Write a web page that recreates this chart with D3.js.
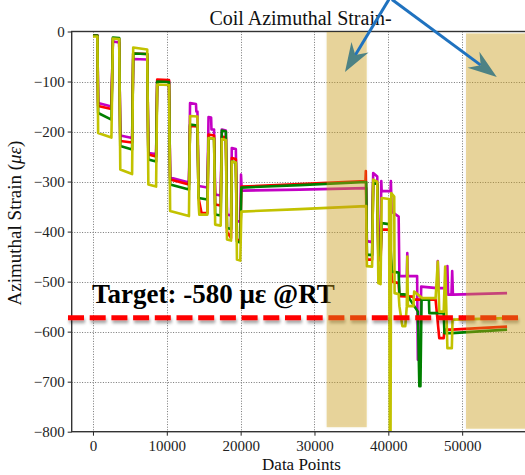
<!DOCTYPE html>
<html>
<head>
<meta charset="utf-8">
<script src="https://cdn.jsdelivr.net/npm/d3@7"></script>
<style>
	body { margin: 0; background: #fff; }
	svg { display: block; font-family: 'Liberation Serif', 'Times New Roman', serif; }
</style>
</head>
<body>
<div id="chart"></div>
<script>
// gauge readings as [data point, microstrain]
const magentaPoints = [
	[0,-8],[600,-8],[700,-143],[2500,-150],[2700,-20],[3550,-22],[3700,-208],[5300,-213],
	[5450,-55],[7350,-56],[7500,-243],[8550,-245],[8700,-98],[10300,-99],[10450,-292],[13000,-302],
	[13150,-143],[13950,-145],[14000,-160],[14150,-160],[14300,-309],[15500,-312],
	[15650,-171],[16000,-172],[16050,-196],[16400,-196],[16550,-326],[17300,-328],
	[17450,-196],[18000,-198],[18150,-366],[18700,-368],[18800,-233],[19350,-235],
	[19500,-379],[19950,-380],[20050,-286],[20150,-318],[28000,-316],[37000,-313],
	[37100,-419],[37800,-421],[37950,-283],[38500,-290],[38650,-426],[38950,-428],
	[39050,-299],[39100,-319],[40300,-319],[40350,-299],[40450,-360],[41400,-370],
	[41500,-489],[42500,-489],[42570,-443],[42650,-489],[43900,-489],[44000,-656],[44300,-656],
	[44450,-510],[46600,-513],[46700,-459],[46800,-513],[47900,-513],[48000,-469],[48100,-526],
	[48550,-526],[48650,-479],[48750,-526],[56080,-523]
];
const redPoints = [
	[0,-8],[600,-8],[700,-149],[2500,-155],[2700,-14],[3550,-15],[3700,-219],[5300,-222],
	[5450,-44],[7350,-45],[7500,-246],[8550,-250],[8700,-96],[10300,-97],[10450,-296],[13000,-306],
	[13150,-189],[14150,-190],[14300,-333],[14700,-363],[15500,-363],[15650,-206],[16400,-208],
	[16550,-346],[17300,-348],[17450,-210],[18000,-212],[18150,-400],[18700,-413],
	[18800,-253],[19350,-255],[19500,-416],[19950,-418],[20100,-310],[28000,-305],
	[36900,-299],[36950,-279],[37100,-456],[37800,-456],[37950,-303],[38500,-305],
	[38650,-456],[38950,-458],[39100,-396],[40100,-396],[40500,-500],[41400,-503],
	[41500,-529],[43400,-530],[43500,-536],[46400,-536],[46900,-613],[47500,-613],
	[47600,-596],[48600,-596],[56080,-590]
];
const greenPoints = [
	[0,-8],[600,-8],[700,-163],[2500,-176],[2700,-12],[3550,-13],[3700,-229],[5300,-236],
	[5450,-44],[7350,-45],[7500,-256],[8550,-260],[8700,-100],[10300,-101],[10450,-306],[13000,-316],
	[13150,-186],[14150,-188],[14300,-333],[15500,-336],[15650,-213],[16400,-214],
	[16550,-366],[17300,-368],[17450,-198],[18000,-200],[18150,-393],[18700,-395],
	[18800,-260],[19350,-262],[19500,-420],[19950,-422],[20100,-312],[28000,-307],[37000,-301],
	[37100,-446],[37800,-447],[37950,-303],[38500,-305],[38650,-446],[38950,-448],
	[39100,-383],[40100,-385],[40500,-480],[41400,-482],[41500,-525],[42500,-526],[44000,-560],
	[44200,-709],[44350,-709],[44500,-536],[45500,-536],[45550,-563],[47500,-563],
	[47600,-603],[48600,-603],[56080,-596]
];
const yellowPoints = [
	[0,-10],[600,-10],[700,-203],[2500,-212],[2700,-14],[3550,-15],[3700,-276],[5300,-285],
	[5450,-32],[7350,-36],[7500,-306],[8550,-310],[8700,-106],[10300,-107],[10450,-359],[13000,-369],
	[13150,-169],[14150,-170],[14300,-343],[14400,-366],[15500,-366],[15650,-213],[16400,-214],
	[16550,-386],[17300,-388],[17450,-215],[18000,-217],[18150,-416],[18700,-418],
	[18800,-260],[19350,-262],[19500,-456],[19950,-458],[20100,-360],[28000,-355],[37000,-349],
	[37100,-469],[37800,-470],[37950,-296],[38500,-300],[38650,-503],[38950,-505],
	[39100,-333],[40100,-335],[40200,-800],[40300,-800],[40400,-323],[40800,-330],
	[40850,-523],[41400,-525],[41500,-549],[41900,-589],[42300,-589],[42500,-549],
	[42570,-450],[42650,-549],[43400,-549],[43500,-520],[44600,-533],[46400,-533],
	[46700,-460],[46900,-560],[47500,-560],[47700,-470],[48000,-633],[48600,-633],
	[48700,-576],[56080,-573]
];

const seriesColors = ['#c400c4', '#ff0000', '#008000', '#c2c200'];

const xTicks = [0, 10000, 20000, 30000, 40000, 50000];
const yTicks = [-800, -700, -600, -500, -400, -300, -200, -100, 0];

// highlighted windows along the x axis
const shadeBands = [[31650, 37070], [50520, 60000]];

const targetValue = -572;
const targetLabel = 'Target: -580 με @RT';

// arrows: [start, tip] in data units
const arrows = [
	[[40080, 64], [34130, -81]],
	[[40490, 64], [54690, -91]]
];

const chartTitle = 'Coil Azimuthal Strain-';
const xLabel = 'Data Points';

class StrainChart {
	constructor(_config) {
		this.config = {
			parentElement: _config.parentElement,
			containerWidth: 525,
			containerHeight: 475,
			plotLeft: 71.7,
			plotRight: 536,
			plotTop: 31.5,
			plotBottom: 431.7
		};
		this.series = [magentaPoints, redPoints, greenPoints, yellowPoints];
		this.initVis();
	}

	initVis() {
		let vis = this;
		const c = vis.config;

		vis.svg = d3.select(c.parentElement).append('svg')
			.attr('width', c.containerWidth)
			.attr('height', c.containerHeight);

		vis.xScale = d3.scaleLinear()
			.domain([-2880, 60000])
			.range([c.plotLeft, c.plotRight]);

		vis.yScale = d3.scaleLinear()
			.domain([-800, 0])
			.range([c.plotBottom, c.plotTop]);

		const defs = vis.svg.append('defs');
		defs.append('clipPath').attr('id', 'plot-clip')
			.append('rect')
			.attr('x', c.plotLeft)
			.attr('y', c.plotTop)
			.attr('width', c.plotRight - c.plotLeft)
			.attr('height', c.plotBottom - c.plotTop);

		//Shadow under the dashed target line (user space, a flat line has no bbox height)
		defs.append('filter').attr('id', 'drop')
			.attr('filterUnits', 'userSpaceOnUse')
			.attr('x', 0).attr('y', 280).attr('width', 525).attr('height', 80)
			.append('feDropShadow')
			.attr('dx', 1).attr('dy', 3).attr('stdDeviation', 1.6)
			.attr('flood-color', '#000').attr('flood-opacity', 0.35);

		defs.append('filter').attr('id', 'soft')
			.attr('x', '-10%').attr('y', '-5%').attr('width', '120%').attr('height', '110%')
			.append('feDropShadow')
			.attr('dx', 0).attr('dy', 0).attr('stdDeviation', 1.5)
			.attr('flood-color', '#000').attr('flood-opacity', 0.15);

		vis.renderVis();
	}

	renderVis() {
		let vis = this;
		const c = vis.config;
		const x = vis.xScale, y = vis.yScale;

		//Dotted grid
		const grid = vis.svg.append('g')
			.attr('stroke', '#777')
			.attr('stroke-width', 1)
			.attr('stroke-dasharray', '1,1.6');
		grid.selectAll('.vgrid')
			.data(xTicks)
			.join('line')
			.attr('x1', d => Math.round(x(d)) + 0.5)
			.attr('x2', d => Math.round(x(d)) + 0.5)
			.attr('y1', c.plotTop)
			.attr('y2', c.plotBottom);
		grid.selectAll('.hgrid')
			.data(yTicks.filter(d => d > -800 && d < 0))
			.join('line')
			.attr('x1', c.plotLeft)
			.attr('x2', c.plotRight)
			.attr('y1', d => Math.round(y(d)) + 0.5)
			.attr('y2', d => Math.round(y(d)) + 0.5);

		//Strain traces
		const line = d3.line()
			.x(d => x(d[0]))
			.y(d => y(d[1]));

		vis.svg.append('g')
			.attr('clip-path', 'url(#plot-clip)')
			.selectAll('path')
			.data(vis.series)
			.join('path')
			.attr('d', line)
			.attr('fill', 'none')
			.attr('stroke', (d, i) => seriesColors[i])
			.attr('stroke-width', 2.6)
			.attr('stroke-linejoin', 'round');

		//Axes
		const fmt = d => d < 0 ? '\u2212' + Math.abs(d) : String(d);
		const yAxis = vis.svg.append('g')
			.attr('transform', `translate(${c.plotLeft},0)`)
			.call(d3.axisLeft(y).tickValues(yTicks).tickSize(4).tickSizeOuter(0).tickPadding(3).tickFormat(fmt));
		const xAxis = vis.svg.append('g')
			.attr('transform', `translate(0,${c.plotBottom})`)
			.call(d3.axisBottom(x).tickValues(xTicks).tickSize(4).tickSizeOuter(0).tickPadding(5).tickFormat(d => d));
		[xAxis, yAxis].forEach(a => {
			a.attr('font-family', 'Liberation Serif').attr('font-size', 15);
			a.select('.domain').remove();
			a.selectAll('text')
				.attr('font-family', 'Liberation Serif')
				.attr('fill', '#222');
			a.selectAll('line').attr('stroke', '#222');
		});

		//Spines
		vis.svg.append('rect')
			.attr('x', c.plotLeft)
			.attr('y', c.plotTop)
			.attr('width', c.plotRight - c.plotLeft)
			.attr('height', c.plotBottom - c.plotTop)
			.attr('fill', 'none')
			.attr('stroke', '#333')
			.attr('stroke-width', 1.4);

		//Axis labels and title
		vis.svg.append('text')
			.attr('x', 300.5)
			.attr('y', 25)
			.attr('text-anchor', 'middle')
			.style('font-size', '20px')
			.attr('fill', '#111')
			.text(chartTitle);

		vis.svg.append('text')
			.attr('x', 301.5)
			.attr('y', 470)
			.attr('text-anchor', 'middle')
			.style('font-size', '17px')
			.attr('fill', '#111')
			.text(xLabel);

		const yLab = vis.svg.append('text')
			.attr('transform', 'translate(21,223) rotate(-90)')
			.attr('text-anchor', 'middle')
			.style('font-size', '19px')
			.attr('fill', '#111');
		yLab.append('tspan').text('Azimuthal Strain (');
		yLab.append('tspan').style('font-style', 'italic').text('με');
		yLab.append('tspan').text(')');

		//Target annotation
		vis.svg.append('text')
			.attr('x', 92)
			.attr('y', 303)
			.style('font-size', '27px')
			.style('font-weight', 'bold')
			.attr('fill', '#000')
			.text(targetLabel);

		vis.svg.append('line')
			.attr('x1', 68)
			.attr('x2', 520)
			.attr('y1', y(targetValue))
			.attr('y2', y(targetValue))
			.attr('stroke', '#ff0000')
			.attr('stroke-width', 5)
			.attr('stroke-dasharray', '16,5.7')
			.attr('filter', 'url(#drop)');

		//Shaded windows on top
		vis.svg.selectAll('.band')
			.data(shadeBands)
			.join('rect')
			.attr('class', 'band')
			.attr('x', d => x(d[0]))
			.attr('width', d => x(d[1]) - x(d[0]))
			.attr('y', (d, i) => c.plotTop + 0.5 + i * 1.5)
			.attr('height', c.plotBottom - c.plotTop - 5)
			.attr('fill', 'rgb(207,160,17)')
			.attr('fill-opacity', 0.4)
			.attr('filter', 'url(#soft)');

		//Arrows pointing to the windows
		arrows.forEach(([s, t]) => {
			const x0 = x(s[0]), y0 = y(s[1]);
			const x1 = x(t[0]), y1 = y(t[1]);
			const len = Math.hypot(x1 - x0, y1 - y0);
			const ux = (x1 - x0) / len, uy = (y1 - y0) / len;
			const nx = -uy, ny = ux;
			const L = 29, W = 10, notch = 9;
			vis.svg.append('line')
				.attr('x1', x0).attr('y1', y0)
				.attr('x2', x1 - (L - notch) * ux).attr('y2', y1 - (L - notch) * uy)
				.attr('stroke', '#1f72bf')
				.attr('stroke-width', 3);
			const head = [
				[x1, y1],
				[x1 - L * ux + W * nx, y1 - L * uy + W * ny],
				[x1 - (L - notch) * ux, y1 - (L - notch) * uy],
				[x1 - L * ux - W * nx, y1 - L * uy - W * ny]
			];
			vis.svg.append('path')
				.attr('d', 'M' + head.map(p => p.join(',')).join('L') + 'Z')
				.attr('fill', '#4d8284');
		});
	}
}

new StrainChart({ parentElement: '#chart' });
</script>
</body>
</html>
